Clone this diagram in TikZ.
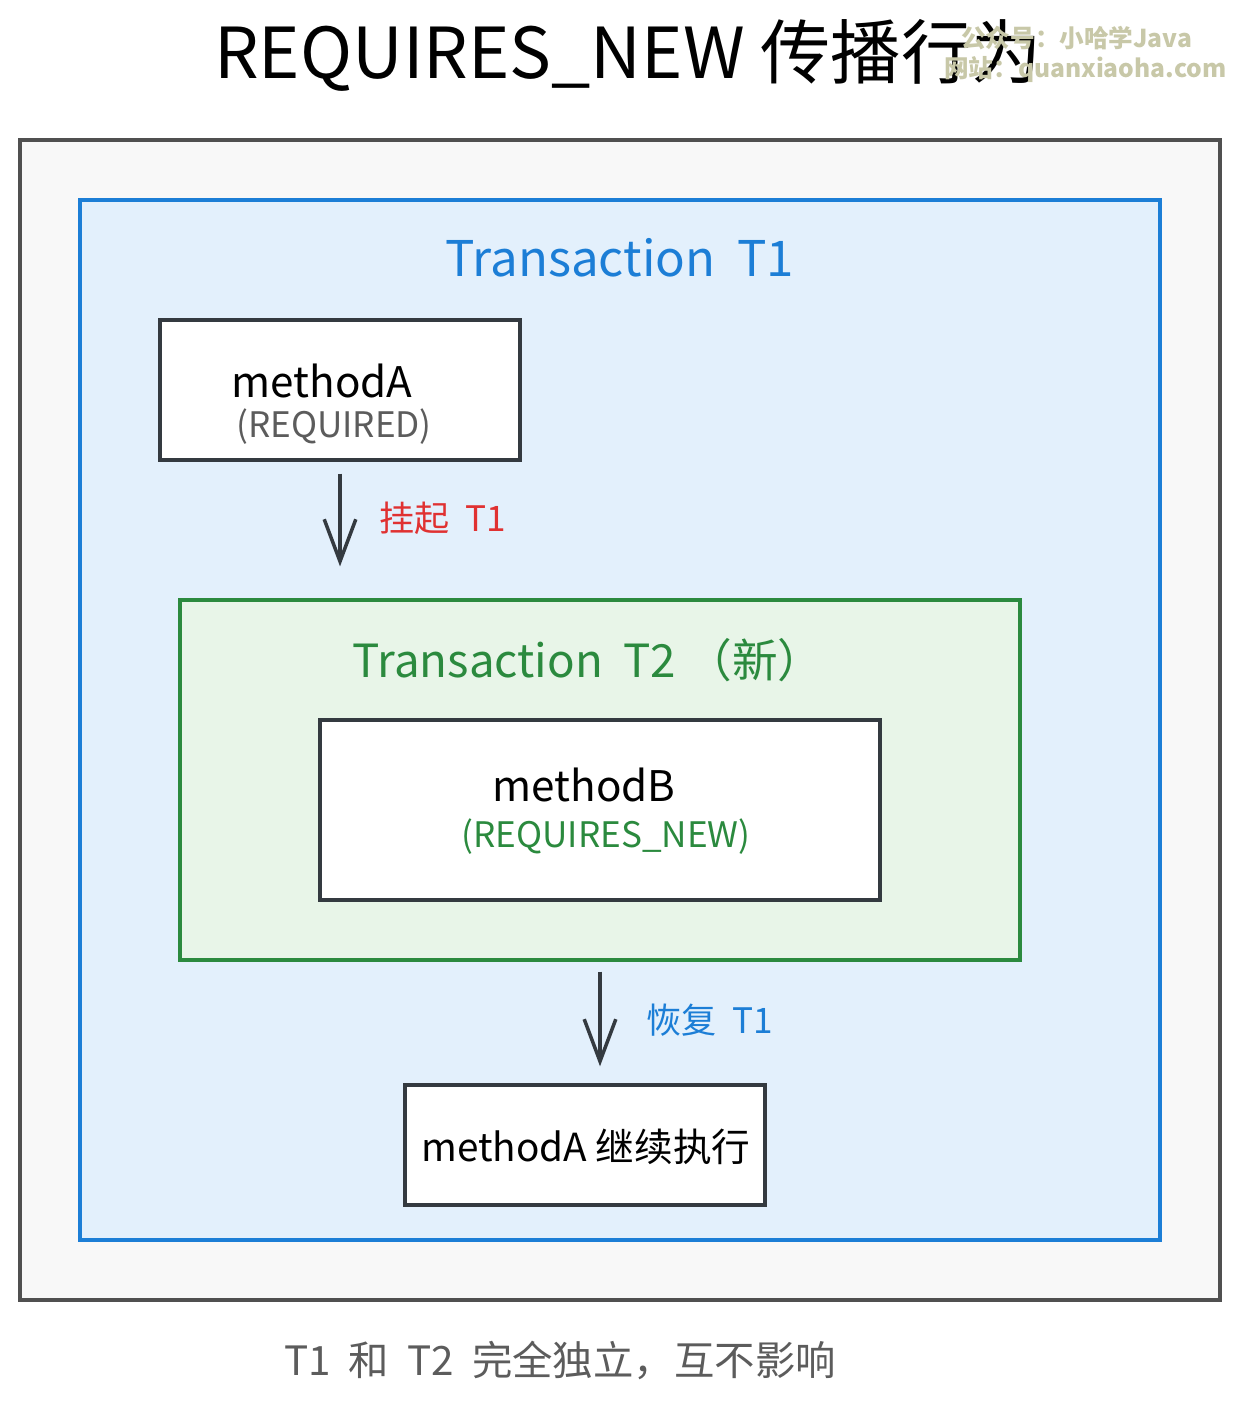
\documentclass[tikz,border=0pt]{standalone}
\usepackage{fontspec}
\setmainfont{Noto Sans CJK SC}
\newfontfamily\wmfont{Noto Sans CJK SC}
\usetikzlibrary{arrows.meta}

\definecolor{framegray}{HTML}{F8F8F8}
\definecolor{framedraw}{HTML}{505050}
\definecolor{tone}{HTML}{1C7ED6}
\definecolor{tonefill}{HTML}{E3F0FC}
\definecolor{ttwo}{HTML}{2B8A3E}
\definecolor{ttwofill}{HTML}{E8F5E8}
\definecolor{boxdraw}{HTML}{343A40}
\definecolor{suspend}{HTML}{E03131}
\definecolor{notegray}{HTML}{5C5C5C}
\definecolor{wmark}{HTML}{C8C8A8}

\begin{document}
\begin{tikzpicture}[x=0.02cm,y=-0.02cm]
		\tikzset{
			frame/.style={
				draw, line width=2pt, inner sep=0pt
			},
			mbox/.style={
				frame, draw=boxdraw, fill=white
			},
			flow/.style={
				draw=boxdraw, line width=2pt, -{Straight Barb[length=24pt,width=18pt,line width=2pt]}
			}
		}
		\useasboundingbox [fill=white] (0,0) rectangle (1240,1410);

		% title and watermark
		\node (title) at (628,55) {\fontsize{40}{44}\selectfont REQUIRES\_NEW\ 传播行为};
		\node [text=wmark, anchor=west] (wm1) at (955,38) {\wmfont\bfseries\fontsize{14}{16}\selectfont 公众号：小哈学Java};
		\node [text=wmark, anchor=west] (wm2) at (938,70) {\wmfont\bfseries\fontsize{14}{16}\selectfont 网站：quanxiaoha.com};

		% frames
		\node [frame, draw=framedraw, fill=framegray, minimum width=24cm, minimum height=23.2cm] (outer) at (620,720) {};
		\node [frame, draw=tone, fill=tonefill, minimum width=21.6cm, minimum height=20.8cm] (t1) at (620,720) {};
		\node [text=tone] (t1lbl) at (620,258) {\fontsize{28}{32}\selectfont Transaction\ \ T1};

		% methodA
		\node [mbox, minimum width=7.2cm, minimum height=2.8cm] (ma) at (340,390) {};
		\node (maname) at (322,381) {\fontsize{24}{28}\selectfont methodA};
		\node [text=notegray] (maprop) at (334,427) {\fontsize{20}{24}\selectfont (REQUIRED)};

		% Transaction T2
		\node [frame, draw=ttwo, fill=ttwofill, minimum width=16.8cm, minimum height=7.2cm] (t2) at (600,780) {};
		\node [text=ttwo] (t2lbl) at (588,660) {\fontsize{26}{30}\selectfont Transaction\ \ T2\ （新）};
		\node [mbox, minimum width=11.2cm, minimum height=3.6cm] (mb) at (600,810) {};
		\node (mbname) at (584,785) {\fontsize{24}{28}\selectfont methodB};
		\node [text=ttwo] (mbprop) at (606,837) {\fontsize{20}{24}\selectfont (REQUIRES\_NEW)};

		% methodA continues
		\node [mbox, minimum width=7.2cm, minimum height=2.4cm] (mc) at (585,1145) {};
		\node (mcname) at (586,1147) {\fontsize{22}{26}\selectfont methodA\ 继续执行};

		% arrows
		\draw [flow, shorten <=12pt/1.764, shorten >=32pt/1.764] (ma.south) -- (ma.south |- t2.north);
		\node [text=suspend, anchor=west] (susp) at (373,518) {\fontsize{20}{24}\selectfont 挂起\ \ T1};
		\draw [flow, shorten <=10pt/1.764, shorten >=17pt/1.764] (t2.south) -- (t2.south |- mc.north);
		\node [text=tone, anchor=west] (resm) at (640,1020) {\fontsize{20}{24}\selectfont 恢复\ \ T1};

		% note
		\node [text=notegray] (note) at (560,1360) {\fontsize{23}{27}\selectfont T1\ \ 和\ \ T2\ \ 完全独立，互不影响};
\end{tikzpicture}
\end{document}
